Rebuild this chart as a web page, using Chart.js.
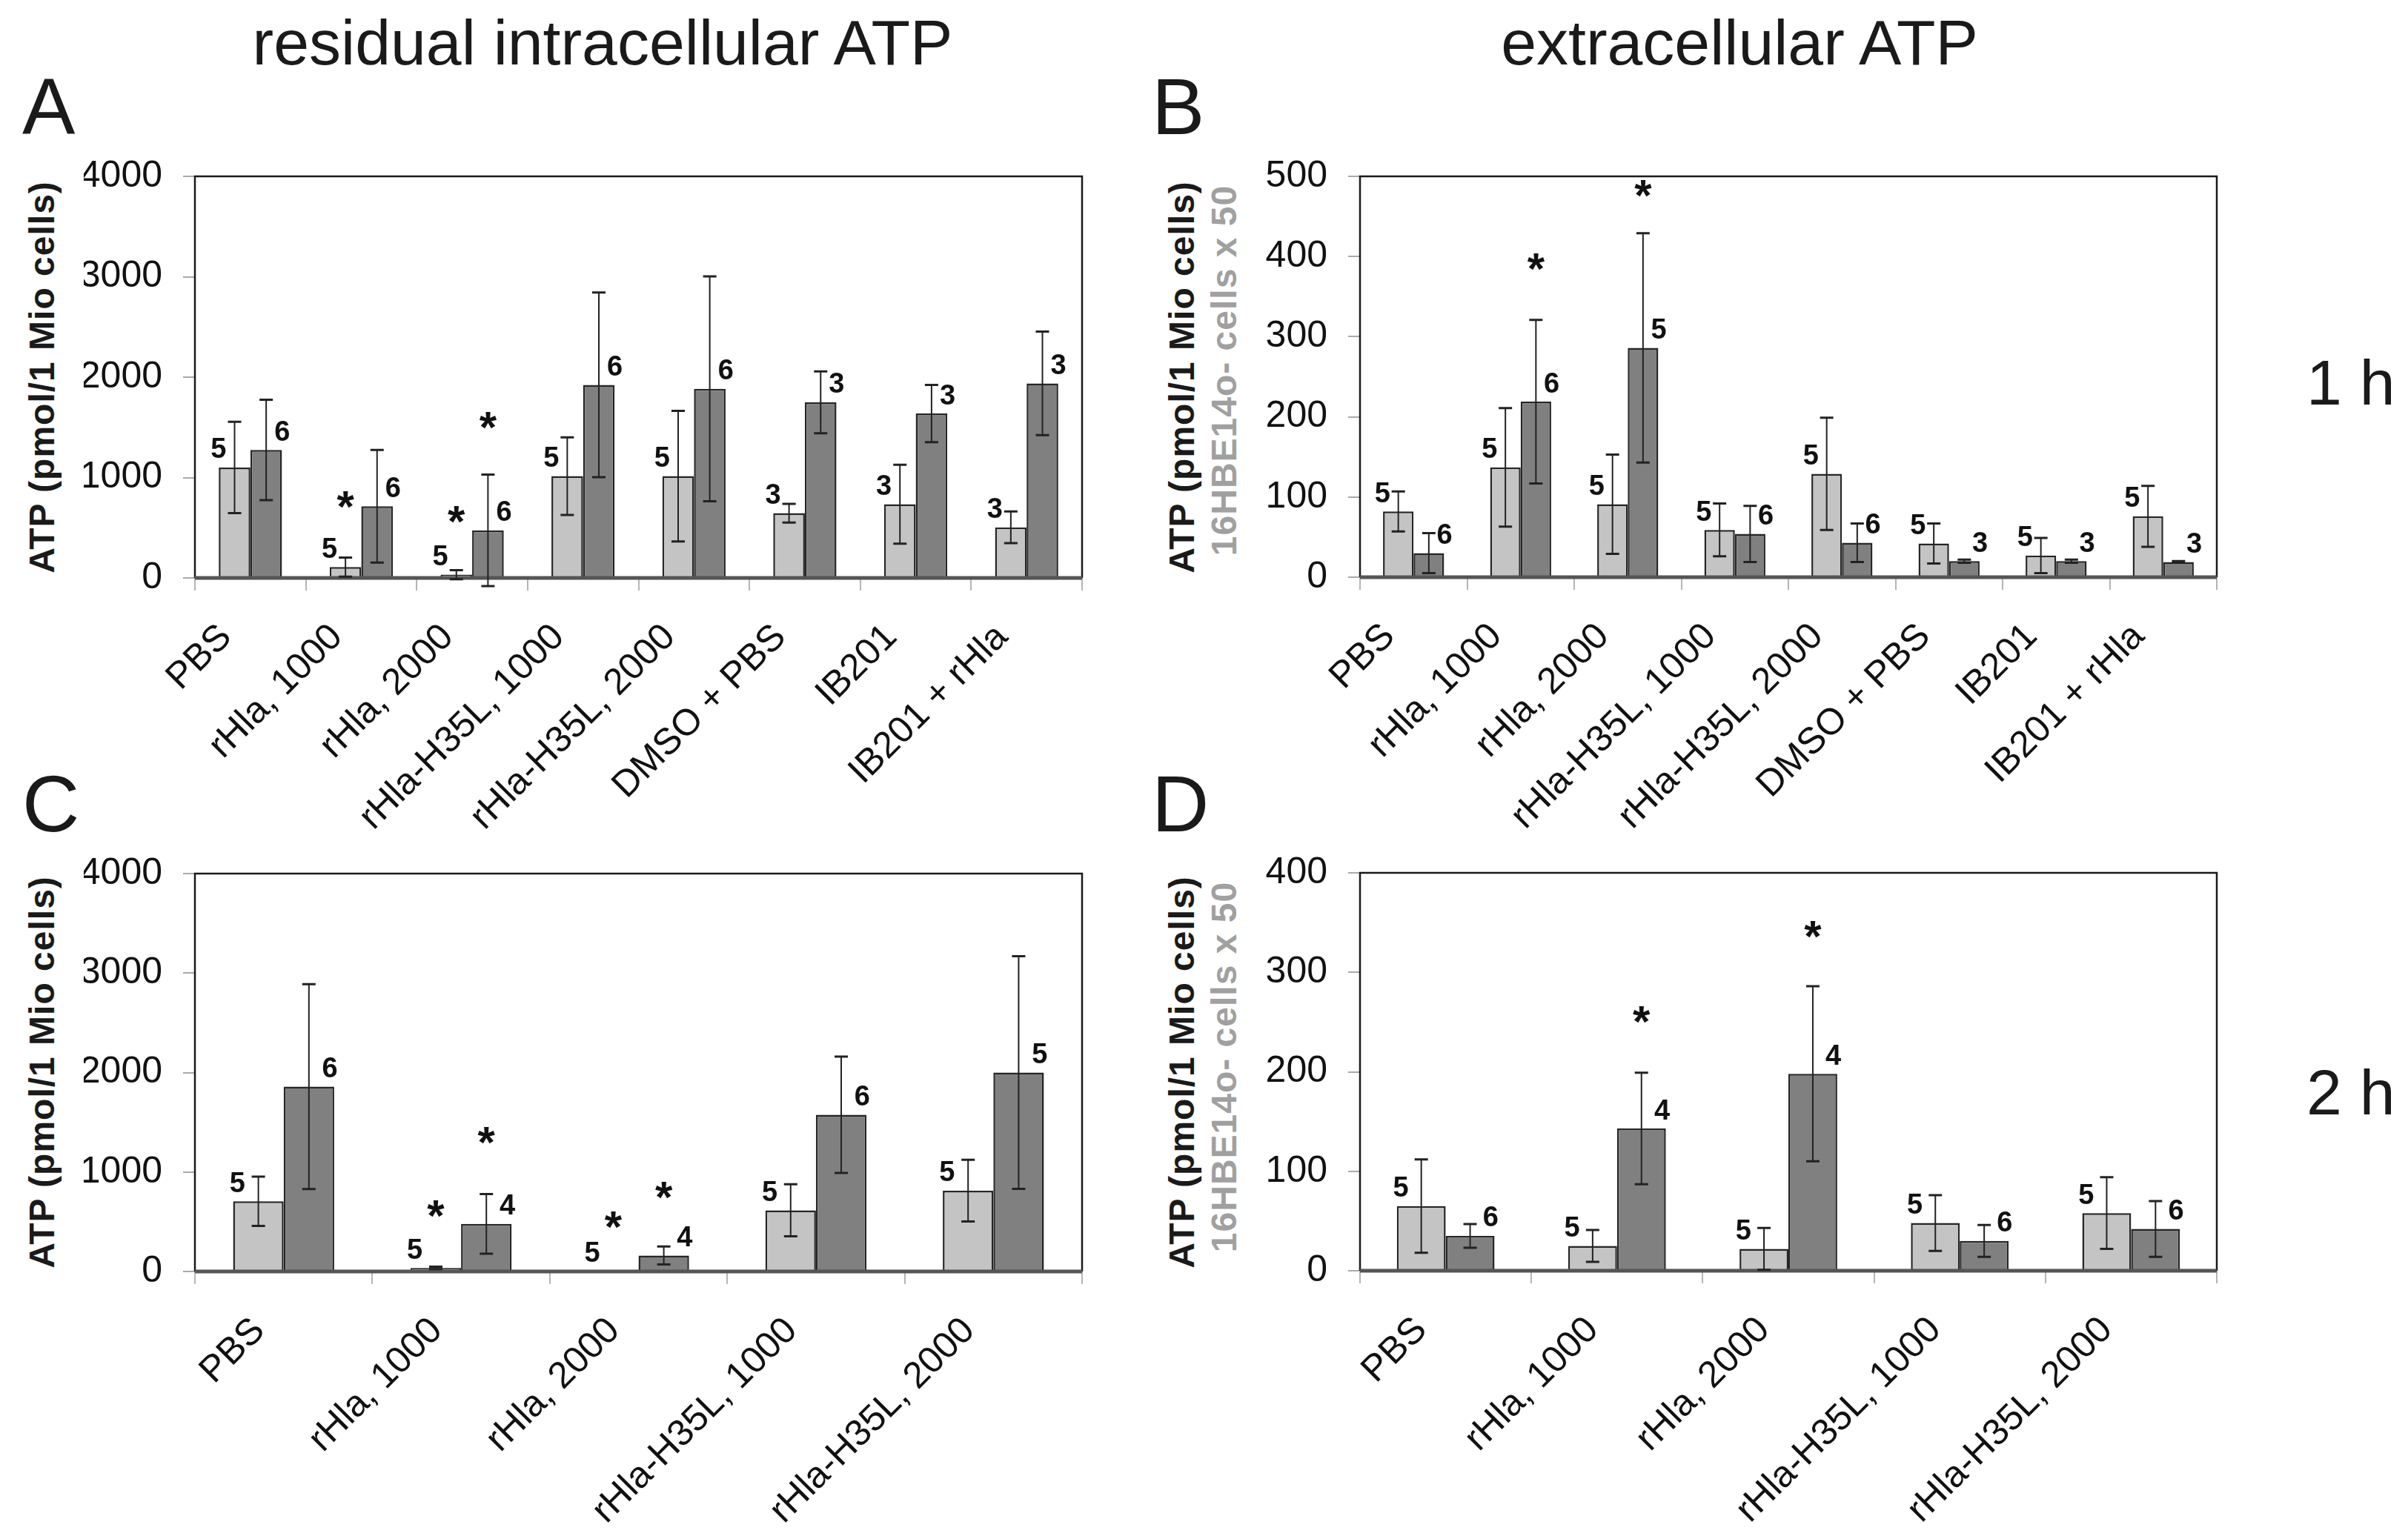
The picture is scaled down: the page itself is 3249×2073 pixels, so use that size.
<!DOCTYPE html>
<html>
<head>
<meta charset="utf-8">
<script src="https://cdn.jsdelivr.net/npm/chart.js@4.4.1/dist/chart.umd.min.js"></script>
<style>
  html, body { margin: 0; padding: 0; background: #fff; }
  body { width: 3249px; height: 2073px; position: relative; overflow: hidden;
         font-family: "Liberation Sans", Arial, sans-serif; color: #1a1a1a; }
  .panel { position: absolute; }
  .txt { position: absolute; line-height: 1; white-space: nowrap; }
  .ytitle { position: absolute; line-height: 1; white-space: nowrap; font-weight: bold;
            font-size: 48px; letter-spacing: 1px; transform: translate(-50%, -50%) rotate(-90deg); }
  .grey { color: #a0a0a0; }
</style>
</head>
<body>

<div class="txt" style="left:813px;top:14px;font-size:86px;transform:translateX(-50%)">residual intracellular ATP</div>
<div class="txt" style="left:2347px;top:14px;font-size:86px;transform:translateX(-50%)">extracellular ATP</div>

<div class="txt" style="left:30px;top:91px;font-size:107px">A</div>
<div class="txt" style="left:1554px;top:91px;font-size:107px">B</div>
<div class="txt" style="left:30px;top:1032px;font-size:107px">C</div>
<div class="txt" style="left:1554px;top:1032px;font-size:107px">D</div>

<div class="txt" style="left:3112px;top:473px;font-size:86px">1 h</div>
<div class="txt" style="left:3112px;top:1431px;font-size:86px">2 h</div>

<div class="ytitle" style="left:57px;top:509px">ATP (pmol/1 Mio cells)</div>
<div class="ytitle" style="left:57px;top:1447px">ATP (pmol/1 Mio cells)</div>
<div class="ytitle" style="left:1595px;top:509px">ATP (pmol/1 Mio cells)</div>
<div class="ytitle grey" style="left:1652px;top:500px">16HBE14o- cells x 50</div>
<div class="ytitle" style="left:1595px;top:1447px">ATP (pmol/1 Mio cells)</div>
<div class="ytitle grey" style="left:1652px;top:1440px">16HBE14o- cells x 50</div>

<div class="panel" style="left:0;top:0;width:1500px;height:1200px"><canvas id="chartA"></canvas></div>
<div class="panel" style="left:1500px;top:0;width:1749px;height:1200px"><canvas id="chartB"></canvas></div>
<div class="panel" style="left:0;top:1100px;width:1500px;height:973px"><canvas id="chartC"></canvas></div>
<div class="panel" style="left:1500px;top:1100px;width:1749px;height:973px"><canvas id="chartD"></canvas></div>

<script>
// categories
const cats1h = ['PBS', 'rHla, 1000', 'rHla, 2000', 'rHla-H35L, 1000', 'rHla-H35L, 2000', 'DMSO + PBS', 'IB201', 'IB201 + rHla'];
const cats2h = ['PBS', 'rHla, 1000', 'rHla, 2000', 'rHla-H35L, 1000', 'rHla-H35L, 2000'];

// A - residual intracellular ATP, 1 h
const aLight     = [1100, 108, 33, 1014, 1014, 645, 735, 504];
const aLightErr  = [455, 95, 45, 387, 650, 93, 393, 158];
const aLightN    = [5, 5, 5, 5, 5, 3, 3, 3];
const aLightStar = [null, 775, 633, null, null, null, null, null];
const aDark      = [1275, 714, 474, 1923, 1884, 1749, 1638, 1938];
const aDarkErr   = [500, 560, 555, 920, 1120, 308, 285, 515];
const aDarkN     = [6, 6, 6, 6, 6, 3, 3, 3];
const aDarkStar  = [null, null, 1570, null, null, null, null, null];

// B - extracellular ATP, 1 h
const bLight     = [82, 137, 91, 59, 129, 42, 27, 76];
const bLightErr  = [25, 74, 62, 33, 70, 25, 22, 38];
const bLightN    = [5, 5, 5, 5, 5, 5, 5, 5];
const bLightStar = [null, null, null, null, null, null, null, null];
const bDark      = [30, 219, 286, 54, 43, 20, 20, 19];
const bDarkErr   = [25, 102, 143, 35, 24, 2, 2, 1];
const bDarkN     = [6, 6, 5, 6, 6, 3, 3, 3];
const bDarkStar  = [null, 393, 485, null, null, null, null, null];

// C - residual intracellular ATP, 2 h
const cLight     = [706, 36, 3, 615, 812];
const cLightErr  = [247, 12, 0, 262, 310];
const cLightN    = [5, 5, 5, 5, 5];
const cLightStar = [null, 627, 515, null, null];
const cDark      = [1858, 479, 161, 1576, 2000];
const cDarkErr   = [1030, 300, 90, 585, 1170];
const cDarkN     = [6, 4, 4, 6, 5];
const cDarkStar  = [null, 1364, 818, null, null];

// D - extracellular ATP, 2 h
const dLight     = [65, 25, 22, 48, 58];
const dLightErr  = [47, 16, 21, 28, 36];
const dLightN    = [5, 5, 5, 5, 5];
const dLightStar = [null, null, null, null, null];
const dDark      = [35, 143, 198, 30, 42];
const dDarkErr   = [12, 56, 88, 16, 28];
const dDarkN     = [6, 4, 4, 6, 6];
const dDarkStar  = [null, 257, 343, null, null];

const FONT = '"Liberation Sans", Arial, sans-serif';
Chart.defaults.font.family = FONT;
Chart.defaults.color = '#111';

// frame, error bars, n labels and asterisks
const extras = {
  id: 'extras',
  afterDatasetsDraw(chart) {
    const ctx = chart.ctx;
    const a = chart.chartArea;
    const ys = chart.scales.y;
    ctx.save();
    ctx.strokeStyle = '#1a1a1a';
    ctx.lineWidth = 2.5;
    ctx.beginPath();
    ctx.moveTo(a.left, a.bottom);
    ctx.lineTo(a.left, a.top);
    ctx.lineTo(a.right, a.top);
    ctx.lineTo(a.right, a.bottom);
    ctx.stroke();
    ctx.strokeStyle = '#555';
    ctx.lineWidth = 5;
    ctx.beginPath();
    ctx.moveTo(a.left, a.bottom);
    ctx.lineTo(a.right, a.bottom);
    ctx.stroke();

    chart.data.datasets.forEach((ds, di) => {
      const meta = chart.getDatasetMeta(di);
      meta.data.forEach((bar, i) => {
        const p = bar.getProps(['x', 'y', 'width'], true);
        const v = ds.data[i], e = ds.err[i];
        if (e > 0) {
          const y1 = ys.getPixelForValue(v + e), y2 = ys.getPixelForValue(v - e);
          ctx.strokeStyle = '#222';
          ctx.lineWidth = 2;
          ctx.beginPath();
          ctx.moveTo(p.x, y1);
          ctx.lineTo(p.x, y2);
          ctx.stroke();
          ctx.lineWidth = 3;
          ctx.beginPath();
          ctx.moveTo(p.x - 9, y1); ctx.lineTo(p.x + 9, y1);
          ctx.moveTo(p.x - 9, y2); ctx.lineTo(p.x + 9, y2);
          ctx.stroke();
        }
        ctx.fillStyle = '#111';
        ctx.font = 'bold 38px ' + FONT;
        ctx.textBaseline = 'bottom';
        if (ds.side === 'left') {
          ctx.textAlign = 'right';
          ctx.fillText(String(ds.n[i]), p.x - 0.26 * p.width, p.y - 4);
        } else {
          ctx.textAlign = 'left';
          ctx.fillText(String(ds.n[i]), p.x + 0.26 * p.width, p.y - 4);
        }
        if (ds.star[i] != null) {
          ctx.font = 'bold 60px ' + FONT;
          ctx.textAlign = 'center';
          ctx.textBaseline = 'alphabetic';
          const m = ctx.measureText('*');
          const cy = ys.getPixelForValue(ds.star[i]);
          ctx.fillText('*', p.x, cy + (m.actualBoundingBoxAscent - m.actualBoundingBoxDescent) / 2);
        }
      });
    });
    ctx.restore();
  }
};

function barSet(values, err, n, star, color, side) {
  return {
    data: values, err: err, n: n, star: star, side: side,
    backgroundColor: color, borderColor: '#262626', borderWidth: 2.5,
    categoryPercentage: 0.57, barPercentage: 1.0
  };
}

function makeChart(id, labels, sets, yMax, yStep, pad, xHeight) {
  return new Chart(document.getElementById(id), {
    type: 'bar',
    data: { labels: labels, datasets: sets },
    options: {
      responsive: true,
      maintainAspectRatio: false,
      animation: false,
      devicePixelRatio: 1,
      layout: { padding: pad },
      plugins: { legend: { display: false }, tooltip: { enabled: false } },
      scales: {
        x: {
          grid: { offset: true, drawOnChartArea: false, drawTicks: true, tickLength: 17, color: '#b5b5b5', lineWidth: 2 },
          border: { display: false },
          ticks: { autoSkip: false, minRotation: 45, maxRotation: 45, padding: 34, labelOffset: -33,
                   color: '#111', font: { size: 50 } },
          afterFit: s => { s.height = xHeight; }
        },
        y: {
          min: 0, max: yMax,
          grid: { drawOnChartArea: false, drawTicks: true, tickLength: 16, color: '#aaa', lineWidth: 2 },
          border: { display: false },
          ticks: { stepSize: yStep, padding: 28, color: '#111', font: { size: 50 }, callback: v => String(v) },
          afterFit: s => { s.width = 150; }
        }
      }
    },
    plugins: [extras]
  });
}

const LIGHT = '#c4c4c4', DARK = '#808080';

makeChart('chartA', cats1h, [
  barSet(aLight, aLightErr, aLightN, aLightStar, LIGHT, 'left'),
  barSet(aDark, aDarkErr, aDarkN, aDarkStar, DARK, 'right')
], 4000, 1000, { left: 113, right: 40, top: 238, bottom: 0 }, 420);

makeChart('chartB', cats1h, [
  barSet(bLight, bLightErr, bLightN, bLightStar, LIGHT, 'left'),
  barSet(bDark, bDarkErr, bDarkN, bDarkStar, DARK, 'right')
], 500, 100, { left: 185, right: 258, top: 238, bottom: 0 }, 421);

makeChart('chartC', cats2h, [
  barSet(cLight, cLightErr, cLightN, cLightStar, LIGHT, 'left'),
  barSet(cDark, cDarkErr, cDarkN, cDarkStar, DARK, 'right')
], 4000, 1000, { left: 113, right: 40, top: 79, bottom: 0 }, 357);

makeChart('chartD', cats2h, [
  barSet(dLight, dLightErr, dLightN, dLightStar, LIGHT, 'left'),
  barSet(dDark, dDarkErr, dDarkN, dDarkStar, DARK, 'right')
], 400, 100, { left: 185, right: 258, top: 78, bottom: 0 }, 358);
</script>
</body>
</html>
